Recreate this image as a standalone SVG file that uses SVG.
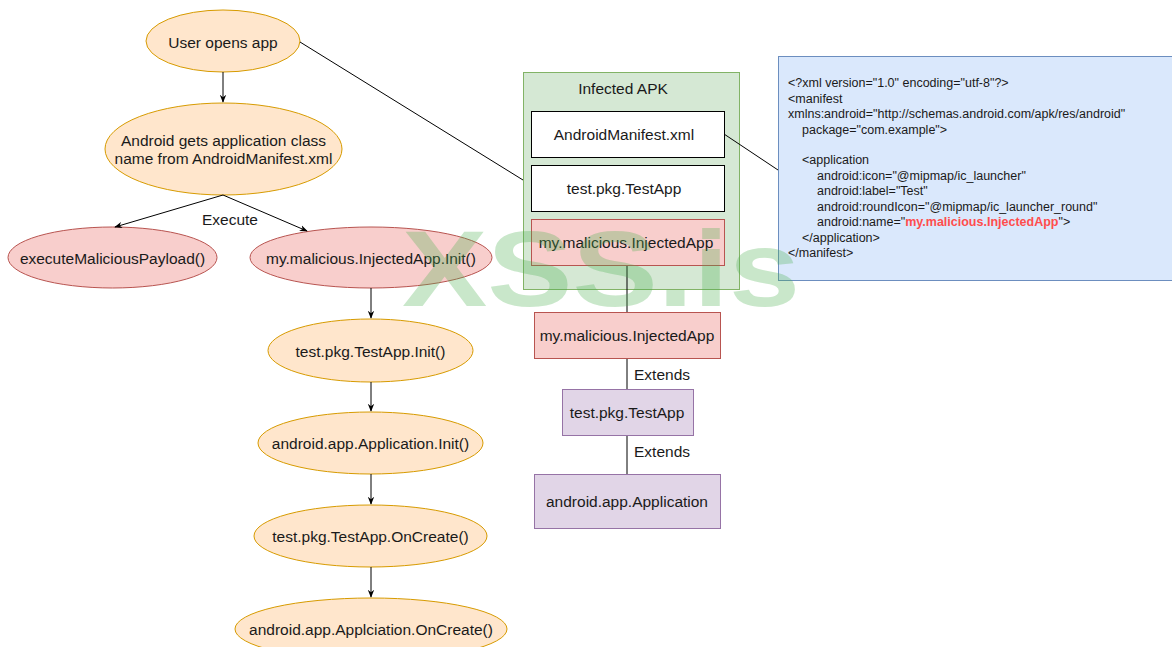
<svg xmlns="http://www.w3.org/2000/svg" width="1172" height="647" viewBox="0 0 1172 647">
<style>
text{font-family:"Liberation Sans",Arial,sans-serif;fill:#1a1a1a}
.lbl{font-size:15.5px;text-anchor:middle;dominant-baseline:central}
.or{fill:#ffe6cc;stroke:#d79b00;stroke-width:1}
.rd{fill:#f8cecc;stroke:#b85450;stroke-width:1}
.wh{fill:#ffffff;stroke:#000000;stroke-width:1}
.gr{fill:#d5e8d4;stroke:#82b366;stroke-width:1}
.pu{fill:#e1d5e7;stroke:#9673a6;stroke-width:1}
.bl{fill:#dae8fc;stroke:#6c8ebf;stroke-width:1}
.edge{fill:none;stroke:#000000;stroke-width:1}
.xml{font-size:12.5px}
.wm{font-family:"Liberation Sans",Arial,sans-serif;font-weight:bold;font-size:108px;fill:#4caf50;fill-opacity:0.3}
</style>
<defs>
<marker id="arr" viewBox="0 0 10 10" refX="9" refY="5" markerWidth="8" markerHeight="8" orient="auto" markerUnits="userSpaceOnUse">
<path d="M0,1 L10,5 L0,9 L3,5 Z" fill="#000"/>
</marker>
</defs>
<rect width="1172" height="647" fill="#ffffff"/>

<g id="user-opens-app">
<ellipse class="or" cx="223" cy="41" rx="77" ry="31"/>
<text class="lbl" x="223" y="42">User opens app</text>
</g>
<g id="android-gets">
<ellipse class="or" cx="223.5" cy="149" rx="118.5" ry="46"/>
<text class="lbl" x="223.5" y="140">Android gets application class</text>
<text class="lbl" x="223.5" y="158">name from AndroidManifest.xml</text>
</g>
<g id="execute-malicious">
<ellipse class="rd" cx="112.5" cy="257.5" rx="104.5" ry="30.5"/>
<text class="lbl" x="112.5" y="258">executeMaliciousPayload()</text>
</g>
<g id="injected-init">
<ellipse class="rd" cx="371" cy="257.5" rx="121" ry="30.5"/>
<text class="lbl" x="371" y="258">my.malicious.InjectedApp.Init()</text>
</g>
<g id="testapp-init">
<ellipse class="or" cx="370.5" cy="350.5" rx="102.5" ry="31.5"/>
<text class="lbl" x="370.5" y="351">test.pkg.TestApp.Init()</text>
</g>
<g id="application-init">
<ellipse class="or" cx="370.5" cy="443" rx="112.5" ry="31"/>
<text class="lbl" x="370.5" y="443">android.app.Application.Init()</text>
</g>
<g id="testapp-oncreate">
<ellipse class="or" cx="370.5" cy="536" rx="116.5" ry="31"/>
<text class="lbl" x="370.5" y="536">test.pkg.TestApp.OnCreate()</text>
</g>
<g id="application-oncreate">
<ellipse class="or" cx="371" cy="629" rx="136" ry="31"/>
<text class="lbl" x="371" y="629">android.app.Applciation.OnCreate()</text>
</g>

<g id="infected-apk">
<rect class="gr" x="523.5" y="72.5" width="216" height="217"/>
<text class="lbl" x="623" y="88">Infected APK</text>
</g>
<g id="apk-manifest">
<rect class="wh" x="531.5" y="111.5" width="193" height="46"/>
<text class="lbl" x="624" y="134">AndroidManifest.xml</text>
</g>
<g id="apk-testapp">
<rect class="wh" x="531.5" y="165.5" width="193" height="46"/>
<text class="lbl" x="624" y="188">test.pkg.TestApp</text>
</g>
<g id="apk-injected">
<rect class="rd" x="531.5" y="219.5" width="193" height="46"/>
<text class="lbl" x="626" y="242">my.malicious.InjectedApp</text>
</g>
<g id="injected-class">
<rect class="rd" x="534.5" y="312.5" width="186" height="46"/>
<text class="lbl" x="627" y="335">my.malicious.InjectedApp</text>
</g>
<g id="testapp-class">
<rect class="pu" x="562.5" y="389.5" width="131" height="46"/>
<text class="lbl" x="627" y="412">test.pkg.TestApp</text>
</g>
<g id="application-class">
<rect class="pu" x="534.5" y="474.5" width="186" height="54"/>
<text class="lbl" x="627" y="501">android.app.Application</text>
</g>

<g id="manifest-xml">
<rect class="bl" x="778.5" y="56.5" width="400" height="224"/>
<text class="xml" x="788" y="87">&lt;?xml version="1.0" encoding="utf-8"?&gt;</text>
<text class="xml" x="788" y="103">&lt;manifest</text>
<text class="xml" x="788" y="118">xmlns:android="http://schemas.android.com/apk/res/android"</text>
<text class="xml" x="802" y="134">package="com.example"&gt;</text>
<text class="xml" x="802" y="164">&lt;application</text>
<text class="xml" x="817" y="180">android:icon="@mipmap/ic_launcher"</text>
<text class="xml" x="817" y="195">android:label="Test"</text>
<text class="xml" x="817" y="211">android:roundIcon="@mipmap/ic_launcher_round"</text>
<text class="xml" x="817" y="226">android:name="<tspan style="fill:#ff4d4d;font-weight:bold">my.malicious.InjectedApp</tspan>"&gt;</text>
<text class="xml" x="802" y="242">&lt;/application&gt;</text>
<text class="xml" x="788" y="257">&lt;/manifest&gt;</text>
</g>

<g id="connectors">
<line class="edge" x1="223" y1="72" x2="223" y2="102" marker-end="url(#arr)"/>
<line class="edge" x1="223" y1="195" x2="115" y2="227" marker-end="url(#arr)"/>
<line class="edge" x1="223" y1="195" x2="307" y2="231" marker-end="url(#arr)"/>
<text class="lbl" x="230" y="219">Execute</text>
<line class="edge" x1="371" y1="288" x2="371" y2="318" marker-end="url(#arr)"/>
<line class="edge" x1="371" y1="382" x2="371" y2="411" marker-end="url(#arr)"/>
<line class="edge" x1="371" y1="474" x2="371" y2="504" marker-end="url(#arr)"/>
<line class="edge" x1="371" y1="567" x2="371" y2="597" marker-end="url(#arr)"/>
<line class="edge" x1="300" y1="42" x2="523" y2="180" stroke="#333"/>
<line class="edge" x1="724" y1="134" x2="778" y2="170" stroke="#333"/>
<line class="edge" x1="627" y1="266" x2="627" y2="312"/>
<line class="edge" x1="627" y1="359" x2="627" y2="389"/>
<text class="lbl" x="634" y="374" style="text-anchor:start">Extends</text>
<line class="edge" x1="627" y1="436" x2="627" y2="474"/>
<text class="lbl" x="634" y="451" style="text-anchor:start">Extends</text>
</g>

<text class="wm" x="402" y="306" textLength="398" lengthAdjust="spacingAndGlyphs">XSS.is</text>
</svg>
